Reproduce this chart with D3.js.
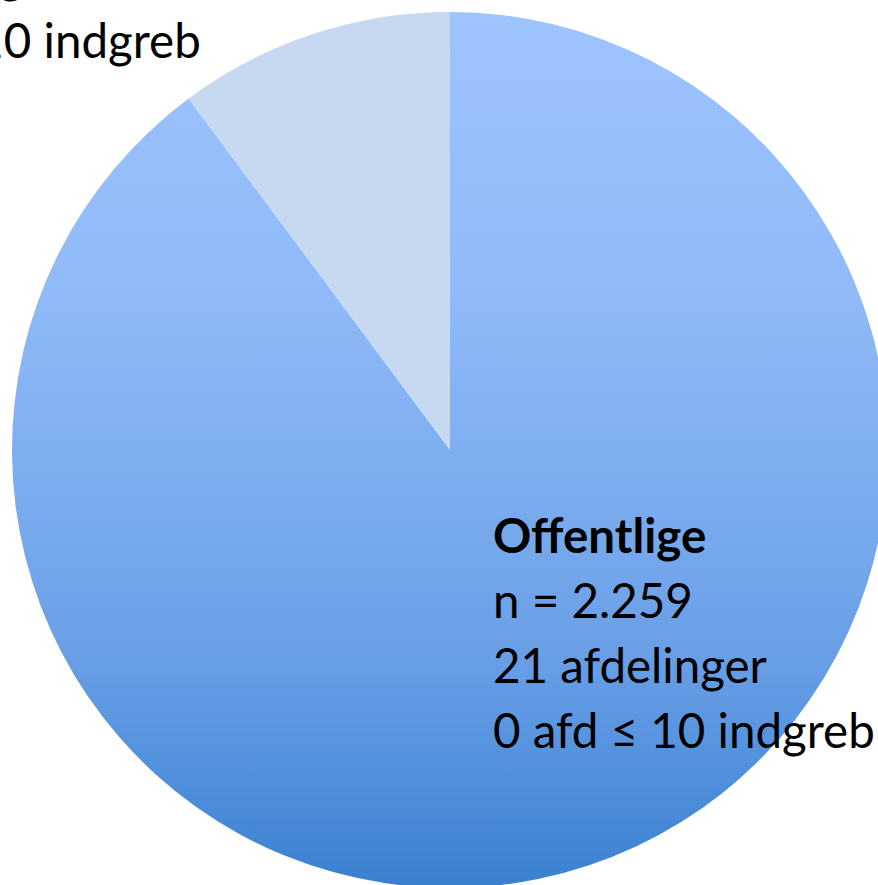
<!DOCTYPE html>
<meta charset="utf-8">
<html>
<head>
<script src="https://d3js.org/d3.v7.min.js"></script>
<style>
  body { margin: 0; background: #fff; }
  svg { display: block; }
</style>
</head>
<body>
<svg id="chart" width="878" height="885"></svg>
<script>
// data
var categories = ["Offentlige", "Private"];
var counts = [2259, 256];
var nLabels = ["2.259", "256"];
var afdelinger = [21, 9];
var smallAfd = [0, 5];
var sliceColors = ["url(#mainGrad)", "#c6d9f1"];

var svg = d3.select("#chart"),
    cx = 450, cy = 450, r = 438;

// gradient for the big slice (light top, darker bottom)
// coords are in the translated group's space
var grad = svg.append("defs").append("linearGradient")
    .attr("id", "mainGrad")
    .attr("gradientUnits", "userSpaceOnUse")
    .attr("x1", 0).attr("y1", -r)
    .attr("x2", 0).attr("y2", r);
var stops = [[0, "#9ec4fe"], [0.33, "#8fb9f8"], [0.56, "#7aabee"], [0.73, "#6a9fe6"], [0.88, "#4f8fdb"], [1, "#3a80d0"]];
stops.forEach(function(s) {
    grad.append("stop").attr("offset", s[0]).attr("stop-color", s[1]);
});

var pie = d3.pie().sort(null).value(function(d) { return d; });
var arc = d3.arc().innerRadius(0).outerRadius(r);

var g = svg.append("g").attr("transform", "translate(" + cx + "," + cy + ")");
g.selectAll("path")
    .data(pie(counts))
    .enter()
    .append("path")
        .attr("d", arc)
        .attr("fill", function(d, i) { return sliceColors[i]; });

// labels
var fontSize = 47.5, lineH = 65;
var labelPos = [[493, 553], [-181, -137]];

categories.forEach(function(c, i) {
    var t = svg.append("text")
        .attr("x", labelPos[i][0])
        .attr("y", labelPos[i][1])
        .attr("font-family", "Lato, 'Open Sans', sans-serif")
        .attr("font-size", fontSize)
        .attr("fill", "#000");
    var lines = [c, "n = " + nLabels[i], afdelinger[i] + " afdelinger", smallAfd[i] + " afd \u2264 10 indgreb"];
    lines.forEach(function(l, j) {
        t.append("tspan")
            .attr("x", labelPos[i][0])
            .attr("y", labelPos[i][1] + j * lineH)
            .attr("font-weight", j == 0 ? "bold" : "normal")
            .text(l);
    });
});
</script>
</body>
</html>
